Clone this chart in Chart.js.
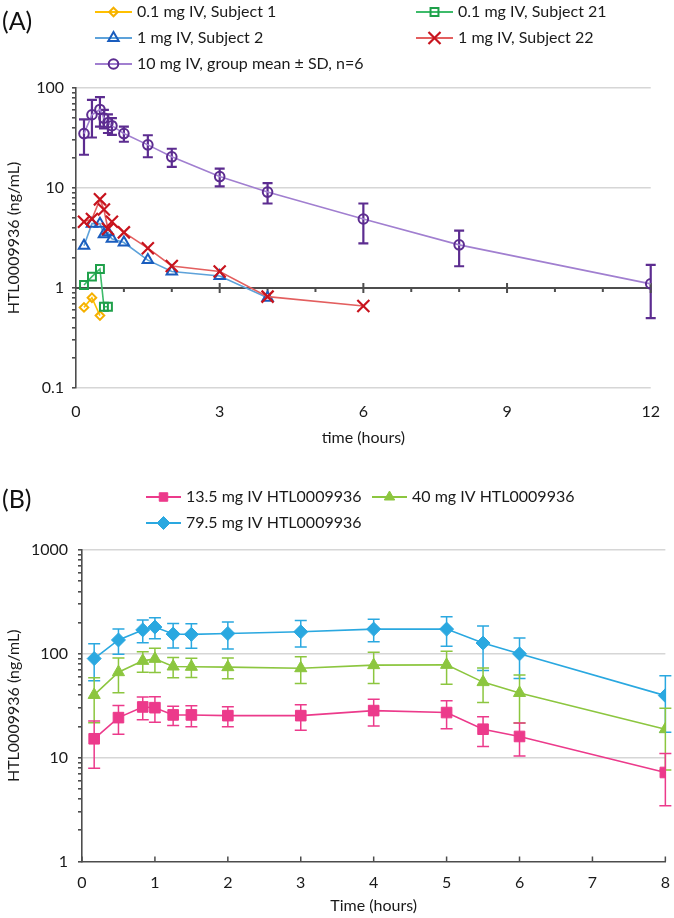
<!DOCTYPE html>
<html><head><meta charset="utf-8">
<script src="https://cdn.jsdelivr.net/npm/chart.js@4"></script>
<style>
html,body{margin:0;padding:0;background:#fff;width:674px;height:918px;overflow:hidden}
#wa{position:absolute;left:0;top:0;width:674px;height:455px}
#wb{position:absolute;left:0;top:460px;width:674px;height:458px}
</style></head><body>
<div id="wa"><canvas id="ca"></canvas></div>
<div id="wb"><canvas id="cb"></canvas></div>
<script>
// ---------- Panel A data ----------
const timesS1 = [0.167, 0.333, 0.5];
const concS1 = [0.64, 0.80, 0.53];
const timesS21 = [0.167, 0.333, 0.5, 0.583, 0.667];
const concS21 = [1.07, 1.30, 1.55, 0.65, 0.65];
const timesS2 = [0.167, 0.333, 0.5, 0.583, 0.667, 0.75, 1, 1.5, 2, 3, 4];
const concS2 = [2.65, 4.4, 4.4, 3.45, 3.6, 3.1, 2.85, 1.9, 1.46, 1.32, 0.80];
const timesS22 = [0.167, 0.333, 0.5, 0.583, 0.667, 0.75, 1, 1.5, 2, 3, 4, 6];
const concS22 = [4.6, 4.9, 7.7, 6.1, 3.9, 4.6, 3.6, 2.5, 1.66, 1.46, 0.82, 0.66];
const times10 = [0.167, 0.333, 0.5, 0.583, 0.667, 0.75, 1, 1.5, 2, 3, 4, 6, 8, 12];
const mean10 = [35, 54, 61, 50, 45, 42, 35, 27, 20.5, 13, 9.1, 4.9, 2.7, 1.1];
const sd10 = [13.5, 22, 20, 10.5, 9.5, 8, 6, 6.7, 4.2, 2.6, 2.1, 2.1, 1.05, 0.6];
const legendA = ['0.1 mg IV, Subject 1', '0.1 mg IV, Subject 21', '1 mg IV, Subject 2', '1 mg IV, Subject 22', '10 mg IV, group mean \u00b1 SD, n=6'];
const xTicksA = [0, 3, 6, 9, 12];
const xMinorA = [1, 2, 3, 4, 5, 6, 7, 8, 9, 10, 11, 12];
const yMajorA = [0.1, 1, 10, 100];
const yLabelsA = ['0.1', '1', '10', '100'];
const titleA = '(A)';
const xTitleA = 'time (hours)';
const yTitle = 'HTL0009936 (ng/mL)';

// ---------- Panel B data ----------
const timesB = [0.167, 0.5, 0.833, 1, 1.25, 1.5, 2, 3, 4, 5, 5.5, 6, 8];
const mean13 = [15.2, 24.3, 30.8, 30.3, 25.8, 25.8, 25.4, 25.4, 28.4, 27.2, 18.8, 16, 7.2];
const sd13 = [7.3, 7.5, 7.6, 8.4, 5.4, 5.9, 5.5, 7, 8.2, 8.2, 6, 5.6, 3.75];
const mean40 = [40.2, 66.6, 85.6, 89.5, 75.5, 75, 74.4, 72.7, 77.8, 78.3, 53.4, 42, 18.8];
const sd40 = [18.5, 24.5, 19, 23.5, 16.5, 15.7, 16.7, 21, 26, 27.5, 19.5, 20.4, 11.2];
const mean79 = [90, 136, 170, 181, 155, 154, 157, 163, 173, 173, 127, 100, 39.6];
const sd79 = [35, 37, 42, 41.5, 41, 41, 45.5, 46.5, 42.5, 55, 58, 42, 22];
const legendB = ['13.5 mg IV HTL0009936', '40 mg IV HTL0009936', '79.5 mg IV HTL0009936'];
const xTicksB = [0, 1, 2, 3, 4, 5, 6, 7, 8];
const yMajorB = [1, 10, 100, 1000];
const yLabelsB = ['1', '10', '100', '1000'];
const titleB = '(B)';
const xTitleB = 'Time (hours)';

Chart.defaults.font.family = "Lato, 'Liberation Sans', sans-serif";
Chart.defaults.color = '#1a1a1a';

function pts(xs, ys) { return xs.map((x, i) => ({x: x, y: ys[i]})); }
function logTicks(decades) {
  const t = [];
  decades.forEach((d, i) => {
    t.push(d);
    if (i < decades.length - 1) for (let k = 2; k <= 9; k++) t.push(+(d * k).toPrecision(3));
  });
  return t.map(v => ({value: v}));
}
function marker(ctx, style, x, y, r) {
  const s = Math.SQRT1_2 * r;
  ctx.beginPath();
  if (style === 'circle') ctx.arc(x, y, r, 0, Math.PI * 2);
  else if (style === 'rect') ctx.rect(x - s, y - s, 2 * s, 2 * s);
  else if (style === 'rectRot') { ctx.moveTo(x, y - r); ctx.lineTo(x + r, y); ctx.lineTo(x, y + r); ctx.lineTo(x - r, y); ctx.closePath(); }
  else if (style === 'triangle') {
    let a = 0; ctx.moveTo(x + Math.sin(a) * r, y - Math.cos(a) * r);
    a += 2 * Math.PI / 3; ctx.lineTo(x + Math.sin(a) * r, y - Math.cos(a) * r);
    a += 2 * Math.PI / 3; ctx.lineTo(x + Math.sin(a) * r, y - Math.cos(a) * r);
    ctx.closePath();
  } else if (style === 'crossRot') { ctx.moveTo(x - s, y - s); ctx.lineTo(x + s, y + s); ctx.moveTo(x + s, y - s); ctx.lineTo(x - s, y + s); }
}

function legendPlugin(id, items, panelTitle, titleY) {
  return {
    id: id,
    afterDraw(chart) {
      const ctx = chart.ctx;
      ctx.save();
      ctx.font = "25px Lato, 'Liberation Sans', sans-serif";
      ctx.fillStyle = '#111';
      ctx.textBaseline = 'middle'; ctx.textAlign = 'left';
      ctx.fillText(panelTitle, 2, titleY);
      items.forEach(it => {
        ctx.strokeStyle = it.line; ctx.lineWidth = 2;
        ctx.beginPath(); ctx.moveTo(it.x, it.y); ctx.lineTo(it.x + it.len, it.y); ctx.stroke();
        ctx.lineWidth = it.bw;
        ctx.strokeStyle = it.mc;
        ctx.fillStyle = it.fill;
        marker(ctx, it.style, it.x + it.len / 2, it.y, it.r);
        if (it.style !== 'crossRot') ctx.fill();
        ctx.stroke();
        ctx.fillStyle = '#1a1a1a';
        ctx.font = "16px Lato, 'Liberation Sans', sans-serif";
        ctx.fillText(it.text, it.x + it.len + 5, it.y);
      });
      ctx.restore();
    }
  };
}

const errorBars = {
  id: 'errorBars',
  beforeDatasetsDraw(chart) {
    const ctx = chart.ctx, xs = chart.scales.x, ys = chart.scales.y;
    chart.data.datasets.forEach(ds => {
      if (!ds.sd) return;
      ctx.save();
      ctx.strokeStyle = ds.errColor; ctx.lineWidth = ds.errWidth;
      ds.data.forEach((p, i) => {
        const px = xs.getPixelForValue(p.x);
        const hi = ys.getPixelForValue(p.y + ds.sd[i]);
        const lo = ys.getPixelForValue(Math.max(p.y - ds.sd[i], ys.min));
        ctx.beginPath();
        ctx.moveTo(px, hi); ctx.lineTo(px, lo);
        ctx.moveTo(px - ds.cap, hi); ctx.lineTo(px + ds.cap, hi);
        ctx.moveTo(px - ds.cap, lo); ctx.lineTo(px + ds.cap, lo);
        ctx.stroke();
      });
      ctx.restore();
    });
  }
};

const axisAtOne = {
  id: 'axisAtOne',
  beforeDatasetsDraw(chart) {
    const ctx = chart.ctx, xs = chart.scales.x, ys = chart.scales.y, ca = chart.chartArea;
    const py = ys.getPixelForValue(1);
    ctx.save(); ctx.strokeStyle = '#4d4d4d'; ctx.lineWidth = 2;
    ctx.beginPath(); ctx.moveTo(ca.left, py); ctx.lineTo(ca.right, py);
    xMinorA.forEach(t => {
      const px = xs.getPixelForValue(t);
      if (xTicksA.includes(t)) { ctx.moveTo(px, py - 5); ctx.lineTo(px, py + 5); }
      else { ctx.moveTo(px, py); ctx.lineTo(px, py + 4); }
    });
    ctx.stroke(); ctx.restore();
  }
};

const xTicksUpB = {
  id: 'xTicksUpB',
  afterDatasetsDraw(chart) {
    const ctx = chart.ctx, xs = chart.scales.x, ca = chart.chartArea;
    ctx.save(); ctx.strokeStyle = '#4d4d4d'; ctx.lineWidth = 1.5;
    ctx.beginPath();
    xTicksB.forEach(t => { const px = xs.getPixelForValue(t); ctx.moveTo(px, ca.bottom); ctx.lineTo(px, ca.bottom - 5); });
    ctx.stroke(); ctx.restore();
  }
};

const axisFont = {size: 16};
const titleFont = {size: 16};

// ---------- Panel A chart ----------
const colA = {
  s1: {line: '#FFC000', mark: '#F5B000'},
  s21: {line: '#3DBB6A', mark: '#1FA04A'},
  s2: {line: '#5DA2DA', mark: '#1A5DBE'},
  s22: {line: '#E35F5F', mark: '#C8141E'},
  g10: {line: '#A17FD0', mark: '#5C2C90'}
};
function dsA(label, xs, ys, c, style, r, extra) {
  return Object.assign({
    label: label, data: pts(xs, ys), showLine: true,
    borderColor: c.line, borderWidth: 1.6,
    pointStyle: style, pointRadius: r, pointBorderColor: c.mark,
    pointBackgroundColor: 'rgba(255,255,255,0)', pointBorderWidth: 2
  }, extra || {});
}
new Chart(document.getElementById('ca'), {
  type: 'scatter',
  data: {
    datasets: [
      dsA(legendA[4], times10, mean10, colA.g10, 'circle', 4.8, {sd: sd10, errColor: '#5C2C90', errWidth: 2.2, cap: 5}),
      dsA(legendA[3], timesS22, concS22, colA.s22, 'crossRot', 8.5, {pointBorderWidth: 2.2}),
      dsA(legendA[2], timesS2, concS2, colA.s2, 'triangle', 6),
      dsA(legendA[1], timesS21, concS21, colA.s21, 'rect', 5.6),
      dsA(legendA[0], timesS1, concS1, colA.s1, 'rectRot', 4.3)
    ]
  },
  options: {
    responsive: true, maintainAspectRatio: false, animation: false, devicePixelRatio: 1,
    layout: {padding: {top: 88, right: 13, left: 0, bottom: 0}},
    plugins: {legend: {display: false}, tooltip: {enabled: false}},
    scales: {
      x: {
        type: 'linear', min: 0, max: 12,
        afterBuildTicks: s => { s.ticks = xTicksA.map(v => ({value: v})); },
        afterFit: s => { s.height = 67; },
        grid: {display: false, drawTicks: false}, border: {display: false},
        ticks: {font: axisFont, padding: 14, autoSkip: false, maxRotation: 0},
        title: {display: true, text: xTitleA, font: titleFont, padding: {top: 0, bottom: 8}}
      },
      y: {
        type: 'logarithmic', min: 0.1, max: 100,
        afterBuildTicks: s => { s.ticks = logTicks(yMajorA); },
        afterFit: s => { s.width = 76; },
        grid: {
          color: c => (yMajorA.includes(c.tick.value) && c.tick.value !== 1) ? '#D6D6D6' : 'rgba(0,0,0,0)',
          lineWidth: 1.6, tickColor: '#4d4d4d', tickLength: 4, drawTicks: true
        },
        border: {display: true, color: '#4d4d4d', width: 1.6},
        ticks: {
          font: axisFont, padding: 8, autoSkip: false,
          callback: v => { const k = yMajorA.indexOf(v); return k >= 0 ? yLabelsA[k] : ''; }
        },
        title: {display: true, text: yTitle, font: titleFont, padding: {top: 4, bottom: 0}}
      }
    }
  },
  plugins: [errorBars, axisAtOne, legendPlugin('legA', [
    {text: legendA[0], x: 95, y: 12, len: 37, line: colA.s1.line, mc: colA.s1.mark, fill: 'rgba(0,0,0,0)', style: 'rectRot', r: 4.3, bw: 2},
    {text: legendA[1], x: 416, y: 12, len: 37, line: colA.s21.line, mc: colA.s21.mark, fill: 'rgba(0,0,0,0)', style: 'rect', r: 5.6, bw: 2},
    {text: legendA[2], x: 95, y: 38, len: 37, line: colA.s2.line, mc: colA.s2.mark, fill: 'rgba(0,0,0,0)', style: 'triangle', r: 6, bw: 2},
    {text: legendA[3], x: 416, y: 38, len: 37, line: colA.s22.line, mc: colA.s22.mark, fill: 'rgba(0,0,0,0)', style: 'crossRot', r: 8.5, bw: 2.2},
    {text: legendA[4], x: 95, y: 64, len: 37, line: colA.g10.line, mc: colA.g10.mark, fill: 'rgba(0,0,0,0)', style: 'circle', r: 4.8, bw: 2}
  ], titleA, 22)]
});

// ---------- Panel B chart ----------
const colB = {c13: '#EC3A8B', c40: '#8CC63F', c79: '#2AA8E0'};
function dsB(label, ys, sd, c, style, r) {
  return {
    label: label, data: pts(timesB, ys), showLine: true,
    borderColor: c, borderWidth: 1.6,
    pointStyle: style, pointRadius: r, pointBorderColor: c, pointBackgroundColor: c, pointBorderWidth: 1,
    sd: sd, errColor: c, errWidth: 1.5, cap: 6
  };
}
new Chart(document.getElementById('cb'), {
  type: 'scatter',
  data: {
    datasets: [
      dsB(legendB[2], mean79, sd79, colB.c79, 'rectRot', 7),
      dsB(legendB[1], mean40, sd40, colB.c40, 'triangle', 7),
      dsB(legendB[0], mean13, sd13, colB.c13, 'rect', 7.5)
    ]
  },
  options: {
    responsive: true, maintainAspectRatio: false, animation: false, devicePixelRatio: 1,
    layout: {padding: {top: 90, right: 5, left: 0, bottom: 0}},
    plugins: {legend: {display: false}, tooltip: {enabled: false}},
    scales: {
      x: {
        type: 'linear', min: 0, max: 8,
        afterBuildTicks: s => { s.ticks = xTicksB.map(v => ({value: v})); },
        afterFit: s => { s.height = 56.5; },
        grid: {display: false},
        border: {display: true, color: '#4d4d4d', width: 1.6},
        ticks: {font: axisFont, padding: 4, autoSkip: false, maxRotation: 0},
        title: {display: true, text: xTitleB, font: titleFont, padding: {top: 0, bottom: 3}}
      },
      y: {
        type: 'logarithmic', min: 1, max: 1000,
        afterBuildTicks: s => { s.ticks = logTicks(yMajorB); },
        afterFit: s => { s.width = 82; },
        grid: {
          color: c => (yMajorB.includes(c.tick.value) && c.tick.value !== 1) ? '#D6D6D6' : 'rgba(0,0,0,0)',
          lineWidth: 1.6, tickColor: '#4d4d4d', tickLength: 4, drawTicks: true
        },
        border: {display: true, color: '#4d4d4d', width: 1.6},
        ticks: {
          font: axisFont, padding: 10, autoSkip: false,
          callback: v => { const k = yMajorB.indexOf(v); return k >= 0 ? yLabelsB[k] : ''; }
        },
        title: {display: true, text: yTitle, font: titleFont, padding: {top: 4, bottom: 0}}
      }
    }
  },
  plugins: [errorBars, xTicksUpB, legendPlugin('legB', [
    {text: legendB[0], x: 146, y: 37, len: 35, line: colB.c13, mc: colB.c13, fill: colB.c13, style: 'rect', r: 6, bw: 1},
    {text: legendB[1], x: 372, y: 37, len: 35, line: colB.c40, mc: colB.c40, fill: colB.c40, style: 'triangle', r: 6, bw: 1},
    {text: legendB[2], x: 146, y: 63, len: 35, line: colB.c79, mc: colB.c79, fill: colB.c79, style: 'rectRot', r: 6.5, bw: 1}
  ], titleB, 40)]
});
</script>
</body></html>
